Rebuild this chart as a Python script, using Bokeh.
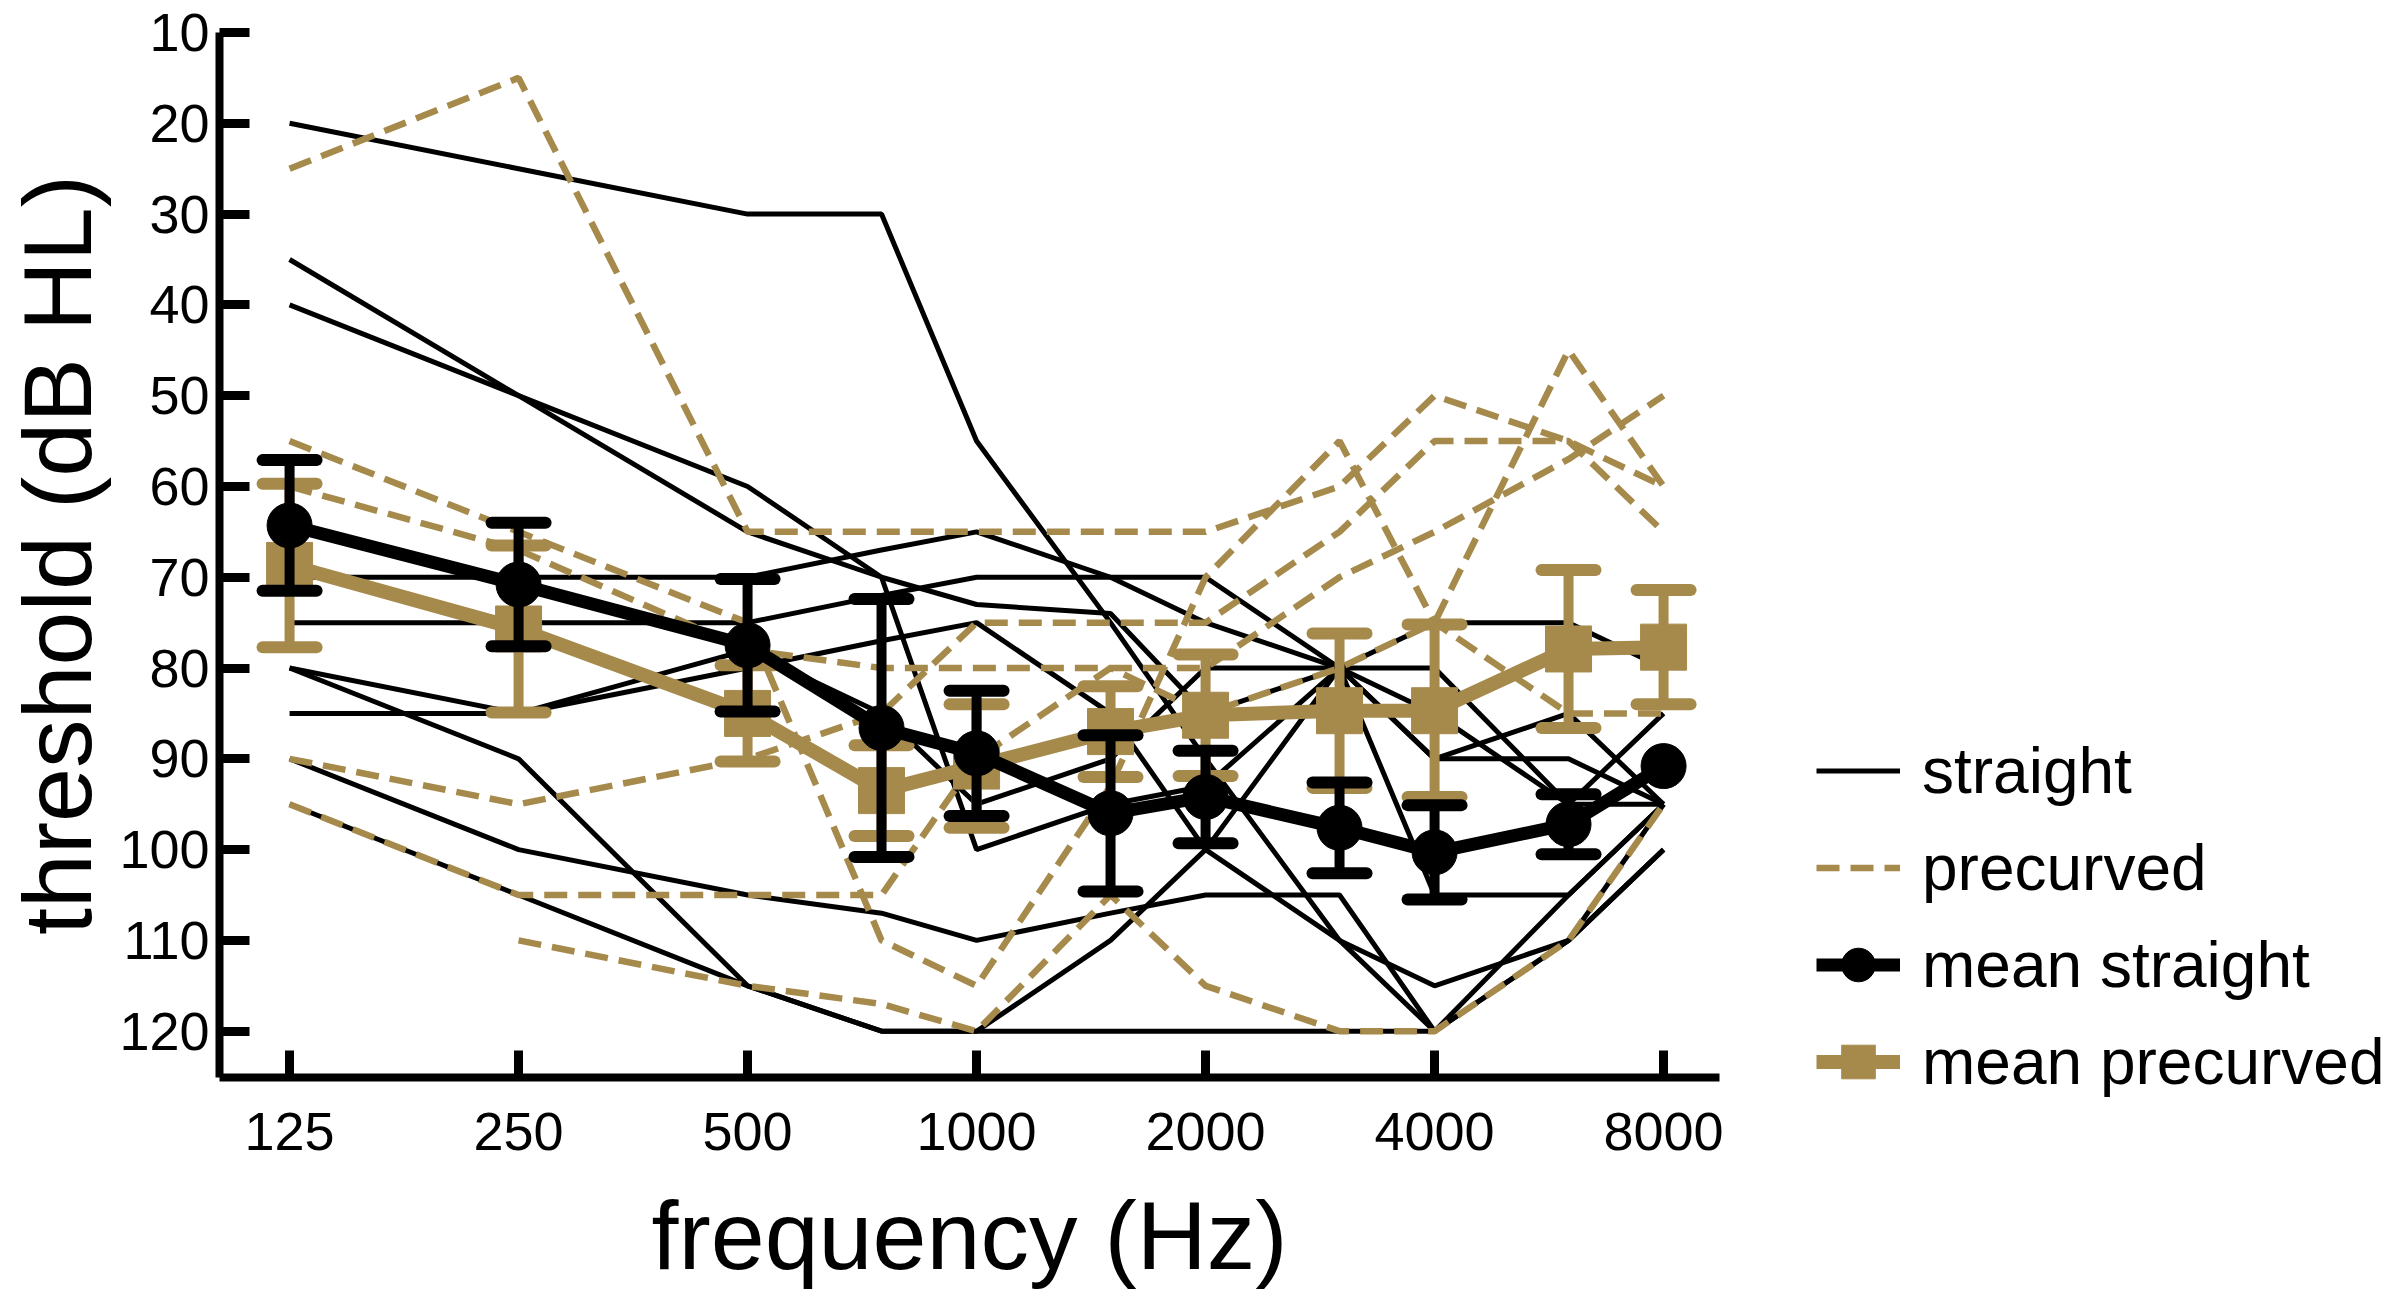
import math
from bokeh.plotting import figure
from bokeh.models import Range1d, FixedTicker, Legend, LegendItem
from bokeh.embed import file_html
from bokeh.resources import INLINE

# ---------------- data ----------------
freqs = [125, 250, 500, 750, 1000, 1500, 2000, 3000, 4000, 6000, 8000]
tick_freqs = [125, 250, 500, 1000, 2000, 4000, 8000]
tick_labels = ["125", "250", "500", "1000", "2000", "4000", "8000"]
y_ticks = [10, 20, 30, 40, 50, 60, 70, 80, 90, 100, 110, 120]

# individual thresholds, straight electrode (dB HL)
straight_1 = [20, 25, 30, 30, 55, 75, 90, 110, 120, 110, 100]
straight_2 = [35, 50, 60, 70, 100, 95, 93, 80, 90, 85, 95]
straight_3 = [40, 50, 65, 70, 73, 74, 85, 80, 75, 75, 80]
straight_4 = [70, 70, 70, 67, 65, 70, 75, 80, 80, 95, 85]
straight_5 = [75, 75, 75, 72, 70, 70, 70, 80, 85, 95, 95]
straight_6 = [80, 85, 80, 77, 75, 85, 100, 110, 115, 110, 95]
straight_7 = [80, 90, 115, 120, 120, 120, 120, 120, 120, 105, 95]
straight_8 = [85, 85, 78, 85, 95, 90, 80, 80, 105, 105, 95]
straight_9 = [90, 100, 105, 107, 110, 107, 105, 105, 120, 110, 100]
straight_10 = [95, 105, 115, 120, 120, 110, 100, 80, 90, 90, 95]

# individual thresholds, precurved electrode (dB HL)
precurved_1 = [25, 15, 65, 65, 65, 65, 65, 60, 50, 55, 60]
precurved_2 = [55, 65, 75, 110, 115, 93, 70, 55, 75, 85, 85]
precurved_3 = [60, 67, 78, 80, 80, 80, 80, 70, 65, 57, 50]
precurved_4 = [90, 95, 90, 85, 75, 75, 75, 65, 55, 55, 65]
precurved_5 = [95, 105, 105, 105, 90, 80, 85, 80, 75, 45, 60]
precurved_6 = [None, 110, 115, 117, 120, 105, 115, 120, 120, 110, 95]

mean_straight = [64.3, 70.8, 77.5, 86.6, 89.4, 96.0, 94.2, 97.6, 100.3, 97.2, 90.8]
err_straight = [7.2, 6.8, 7.3, 14.2, 6.9, 8.6, 5.1, 5.0, 5.2, 3.3, 0.0]
mean_precurved = [68.7, 75.7, 85.0, 93.5, 90.8, 87.0, 85.2, 84.7, 84.7, 77.9, 77.7]
err_precurved = [9.0, 9.2, 5.3, 5.0, 6.8, 5.0, 6.7, 8.5, 9.5, 8.7, 6.3]

straight_lines = [straight_1, straight_2, straight_3, straight_4, straight_5,
                  straight_6, straight_7, straight_8, straight_9, straight_10]
precurved_lines = [precurved_1, precurved_2, precurved_3, precurved_4,
                   precurved_5, precurved_6]

# ---------------- style ----------------
TAN = "#A68A4C"
BLACK = "#000000"
FONT = "Liberation Sans"

L, T, B = 212, 32, 215
FRAME_W = 1500
FRAME_H = 1045
PX_PER_OCT = 229.0
x0 = -0.306
x1 = x0 + FRAME_W / PX_PER_OCT
y_top = 10
y_bottom = 125.1


def pos(f):
    return math.log2(f / 125.0)


xpos = [pos(f) for f in freqs]

p = figure(frame_width=FRAME_W, frame_height=FRAME_H,
           output_backend="svg", toolbar_location=None,
           x_range=Range1d(x0, x1), y_range=Range1d(y_bottom, y_top),
           min_border_left=L, min_border_right=0, min_border_top=T,
           min_border_bottom=B)
p.outline_line_color = None
p.xgrid.visible = False
p.ygrid.visible = False
p.background_fill_color = "white"
p.border_fill_color = "white"


def split(series):
    xs, ys = [], []
    for xv, yv in zip(xpos, series):
        if yv is not None:
            xs.append(xv)
            ys.append(yv)
    return xs, ys


sx, sy = zip(*[split(s) for s in straight_lines])
r_str = p.multi_line(list(sx), list(sy), line_color=BLACK, line_width=5)
px_, py_ = zip(*[split(s) for s in precurved_lines])
r_pre = p.multi_line(list(px_), list(py_), line_color=TAN, line_width=6.5,
                     line_dash="23 11")


def bars(means, errs):
    bx, lo, hi = [], [], []
    for xv, m, e in zip(xpos, means, errs):
        if e > 0:
            bx.append(xv)
            lo.append(m - e)
            hi.append(m + e)
    return bx, lo, hi


CAP = 54
CAP_W = 12

# precurved mean
r_pm_line = p.line(xpos, mean_precurved, line_color=TAN, line_width=14)
bx, lo, hi = bars(mean_precurved, err_precurved)
p.segment(bx, lo, bx, hi, line_color=TAN, line_width=10)
p.scatter(bx, lo, marker="dash", size=CAP, line_color=TAN, line_width=CAP_W,
          line_cap="round")
p.scatter(bx, hi, marker="dash", size=CAP, line_color=TAN, line_width=CAP_W,
          line_cap="round")
r_pm_pts = p.scatter(xpos, mean_precurved, marker="square", size=46,
                     fill_color=TAN, line_color=TAN)

# straight mean
r_sm_line = p.line(xpos, mean_straight, line_color=BLACK, line_width=13)
bx, lo, hi = bars(mean_straight, err_straight)
p.segment(bx, lo, bx, hi, line_color=BLACK, line_width=10)
p.scatter(bx, lo, marker="dash", size=CAP, line_color=BLACK, line_width=CAP_W,
          line_cap="round")
p.scatter(bx, hi, marker="dash", size=CAP, line_color=BLACK, line_width=CAP_W,
          line_cap="round")
r_sm_pts = p.scatter(xpos, mean_straight, marker="circle", size=45,
                     fill_color=BLACK, line_color=BLACK)

# ---------------- axes ----------------
xa = p.xaxis[0]
xa.ticker = FixedTicker(ticks=[pos(f) for f in tick_freqs])
xa.major_label_overrides = {pos(f): lab for f, lab in zip(tick_freqs, tick_labels)}
xa.axis_label = "frequency (Hz)"

ya = p.yaxis[0]
ya.ticker = FixedTicker(ticks=y_ticks)
ya.axis_label = "threshold (dB HL)"

for ax, tin in ((xa, 27), (ya, 30)):
    ax.axis_line_width = 8
    ax.axis_line_color = BLACK
    ax.major_tick_line_width = 9
    ax.major_tick_line_color = BLACK
    ax.major_tick_in = tin
    ax.major_tick_out = 0
    ax.minor_tick_line_color = None
    ax.major_label_text_font = FONT
    ax.major_label_text_font_size = "54px"
    ax.major_label_text_color = BLACK
    ax.axis_label_text_font = FONT
    ax.axis_label_text_font_size = "97px"
    ax.axis_label_text_font_style = "normal"
    ax.axis_label_text_color = BLACK

xa.major_label_standoff = 35
xa.axis_label_standoff = 28
ya.major_label_standoff = 10
ya.axis_label_standoff = 4

# ---------------- legend ----------------
legend = Legend(items=[
    LegendItem(label="straight", renderers=[r_str]),
    LegendItem(label="precurved", renderers=[r_pre]),
    LegendItem(label="mean straight", renderers=[r_sm_line, r_sm_pts]),
    LegendItem(label="mean precurved", renderers=[r_pm_line, r_pm_pts]),
], location=(97, -33))
legend.glyph_width = 84
legend.glyph_height = 97
legend.label_height = 97
legend.spacing = 0
legend.padding = 0
legend.margin = 0
legend.label_standoff = 22
legend.label_text_font = FONT
legend.label_text_font_size = "64px"
legend.label_text_color = BLACK
legend.border_line_color = None
legend.background_fill_alpha = 0
p.add_layout(legend, "right")

open("out.html", "w").write(file_html(p, INLINE))
